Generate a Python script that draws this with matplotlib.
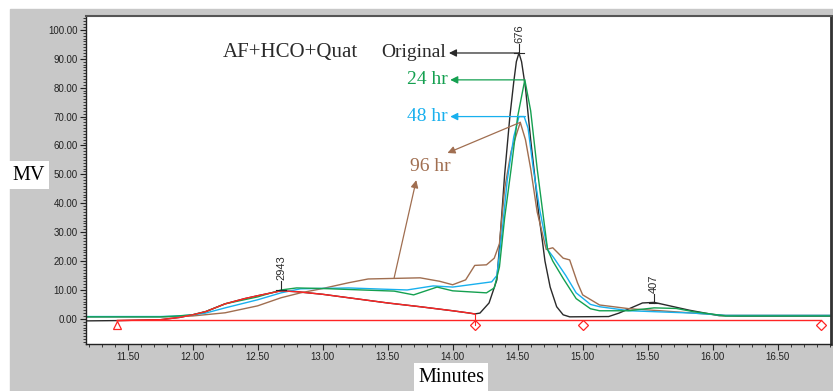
import numpy as np
import matplotlib.pyplot as plt
from matplotlib.patches import Rectangle
from matplotlib.ticker import MultipleLocator, FormatStrFormatter

# retention time (min) / signal (mV)
t_orig = [11.18, 11.42, 11.75, 11.9, 12.0, 12.1, 12.25, 12.4, 12.5, 12.68, 12.8, 13.0,
          13.2, 13.5, 13.75, 14.0, 14.13, 14.17, 14.21, 14.28, 14.34, 14.36, 14.40, 14.44,
          14.47, 14.49, 14.51, 14.53, 14.56, 14.60, 14.63, 14.66, 14.69, 14.71, 14.75,
          14.80, 14.85, 14.90, 15.20, 15.28, 15.46, 15.55, 15.64, 15.82, 16.05, 16.2, 16.91]
y_orig = [-0.7, -0.6, -0.3, 0.5, 1.4, 2.5, 5.2, 7.0, 8.0, 9.7, 9.4, 8.5,
          7.3, 5.5, 4.2, 2.8, 2.0, 1.7, 2.0, 5.5, 13.5, 25, 50, 70,
          82, 89, 92, 89, 80, 62, 50, 37, 27, 20, 11,
          4.2, 1.4, 0.7, 0.8, 2.0, 5.5, 5.7, 4.8, 3.0, 1.1, 1.0, 1.0]

# integrated part of the original trace (drawn red)
t_int = t_orig[1:18]
y_int = y_orig[1:18]

t_24 = [11.18, 11.75, 11.85, 12.0, 12.1, 12.25, 12.5, 12.68, 12.8, 13.0, 13.3, 13.55,
        13.7, 13.8, 13.88, 14.0, 14.26, 14.32, 14.36, 14.40, 14.45, 14.50, 14.555, 14.6,
        14.65, 14.69, 14.73, 14.77, 14.85, 14.95, 15.06, 15.13, 15.35, 15.55, 15.72,
        15.85, 16.1, 16.91]
y_24 = [0.7, 0.7, 0.9, 1.4, 2.5, 5.2, 7.6, 10.0, 10.7, 10.5, 10.0, 9.6,
        8.3, 9.8, 11.0, 9.7, 9.0, 10.7, 18, 35, 52, 70, 82.7, 72,
        52, 38, 24, 20, 14, 7, 3.5, 2.8, 2.8, 3.8, 3.6,
        2.5, 1.0, 1.0]

t_48 = [11.18, 11.75, 11.9, 12.0, 12.1, 12.25, 12.5, 12.68, 12.83, 13.2, 13.45, 13.65,
        13.85, 14.0, 14.3, 14.34, 14.38, 14.42, 14.47, 14.51, 14.55, 14.58, 14.62, 14.67,
        14.73, 14.78, 14.87, 14.95, 15.06, 15.13, 15.36, 15.6, 15.85, 16.1, 16.91]
y_48 = [0.8, 0.8, 1.0, 1.4, 2.0, 3.8, 6.6, 9.0, 10.4, 10.7, 10.3, 10.0,
        11.4, 11.0, 12.8, 15, 30, 48, 63, 70, 70, 66, 52, 37.7,
        24, 21, 15, 9, 5, 4.2, 2.8, 2.4, 2.0, 1.2, 1.2]

t_96 = [11.18, 11.75, 11.9, 12.0, 12.25, 12.5, 12.68, 12.83, 13.0, 13.2, 13.35, 13.75,
        13.9, 14.0, 14.1, 14.17, 14.26, 14.32, 14.36, 14.40, 14.45, 14.52, 14.56, 14.6,
        14.65, 14.72, 14.77, 14.85, 14.9, 14.96, 15.0, 15.13, 15.36, 15.6, 15.85, 16.1, 16.91]
y_96 = [0.7, 0.7, 0.8, 1.0, 2.1, 4.5, 7.3, 9.0, 10.5, 12.5, 13.8, 14.2,
        13.0, 11.8, 13.5, 18.5, 18.7, 21, 26, 45, 58, 68, 62, 52,
        37, 24, 24.6, 21, 20.4, 12.5, 8.3, 4.8, 3.5, 2.8, 2.0, 1.2, 1.2]

# integration marks
base_t = [11.42, 16.83]
base_y = [-0.35, -0.35]
start_t = [11.42]
end_t = [14.17, 15.00, 16.83]
mark_y = -2.2

peak_labels = ['2943', '676', '407']
peak_t = [12.68, 14.51, 15.55]
peak_y = [10.0, 92.0, 5.6]

c_black = '#2a2a2a'
c_green = '#14a050'
c_blue = '#18b0ee'
c_brown = '#a06e50'
c_red = '#ff2424'
serif = 'Liberation Serif'

fig = plt.figure(figsize=(8.33, 3.91), dpi=100)
fig.patches.append(Rectangle((10/833, 0), 823/833, 382/391, transform=fig.transFigure,
                             color='#c8c8c8', zorder=-5))
ax = fig.add_axes([86/833, 47/391, 745/833, 328/391])
ax.set_facecolor('white')

ax.plot(t_orig, y_orig, color=c_black, lw=1.0)
ax.plot(t_96, y_96, color=c_brown, lw=1.0)
ax.plot(t_48, y_48, color=c_blue, lw=1.0)
ax.plot(t_24, y_24, color=c_green, lw=1.0)
ax.plot(t_int, y_int, color=c_red, lw=1.0)
ax.plot(base_t, base_y, color=c_red, lw=1.0)
ax.plot(start_t, [mark_y]*len(start_t), ls='None', marker='^', ms=6, mfc='none', mec=c_red, mew=0.9)
ax.plot(end_t, [mark_y]*len(end_t), ls='None', marker='D', ms=5, mfc='none', mec=c_red, mew=0.9)
ax.plot([14.17, 14.17], [1.7, mark_y], color=c_red, lw=0.8)

# peak apex labels with small tick marks
for lab, pt, py in zip(peak_labels, peak_t, peak_y):
    ax.plot([pt, pt], [py, py + 3.0], color=c_black, lw=0.8)
    ax.plot([pt - 0.04, pt + 0.04], [py, py], color=c_black, lw=0.8)
    ax.text(pt, py + 3.3, lab, rotation=90, ha='center', va='bottom',
            fontsize=8, family='Liberation Sans', color=c_black)

# sample annotations
arrow = dict(lw=0.9, mutation_scale=11, shrinkA=0, shrinkB=0)
ax.text(12.23, 92, 'AF+HCO+Quat', family=serif, fontsize=15, color=c_black, va='center', ha='left')
ax.annotate('Original', xy=(14.51, 92), xytext=(13.95, 92), family=serif, fontsize=14,
            color=c_black, va='center', ha='right',
            arrowprops=dict(arrowstyle='<|-', color=c_black, **arrow))
ax.annotate('24 hr', xy=(14.555, 82.7), xytext=(13.96, 82.7), family=serif, fontsize=14,
            color=c_green, va='center', ha='right',
            arrowprops=dict(arrowstyle='<|-', color=c_green, **arrow))
ax.annotate('48 hr', xy=(14.56, 70), xytext=(13.96, 70), family=serif, fontsize=14,
            color=c_blue, va='center', ha='right',
            arrowprops=dict(arrowstyle='<|-', color=c_blue, **arrow))
ax.text(13.83, 52.8, '96 hr', family=serif, fontsize=14, color=c_brown, va='center', ha='center')
ax.annotate('', xy=(13.96, 57.4), xytext=(14.52, 68),
            arrowprops=dict(arrowstyle='-|>', color=c_brown, **arrow))
ax.annotate('', xy=(13.72, 48), xytext=(13.55, 14.2),
            arrowprops=dict(arrowstyle='-|>', color=c_brown, **arrow))

ax.set_xlim(11.18, 16.91)
ax.set_ylim(-8.7, 104.8)
ax.set_yticks(np.arange(0, 101, 10))
ax.set_xticks(np.arange(11.5, 16.6, 0.5))
ax.yaxis.set_major_formatter(FormatStrFormatter('%.2f'))
ax.xaxis.set_major_formatter(FormatStrFormatter('%.2f'))
ax.yaxis.set_minor_locator(MultipleLocator(1))
ax.xaxis.set_minor_locator(MultipleLocator(0.1))
ax.tick_params(which='major', length=4, width=0.8, labelsize=7, colors='#222222', pad=2)
ax.tick_params(which='minor', length=2, width=0.6, colors='#222222')
for lbl in ax.get_xticklabels() + ax.get_yticklabels():
    lbl.set_family('Liberation Sans')
for side in ['left', 'bottom']:
    ax.spines[side].set_linewidth(1.0)
    ax.spines[side].set_color('#222222')
ax.spines['top'].set_linewidth(1.5)
ax.spines['top'].set_color('#555555')
ax.spines['right'].set_linewidth(2.0)
ax.spines['right'].set_color('#333333')

fig.text(29/833, 1 - 175/391, 'MV', family=serif, fontsize=14.5, ha='center', va='center',
         bbox=dict(facecolor='white', edgecolor='none', pad=3))
fig.text(451/833, 1 - 377/391, 'Minutes', family=serif, fontsize=14.5, ha='center', va='center',
         bbox=dict(facecolor='white', edgecolor='none', pad=3))

fig.savefig('out.png', dpi=100)
